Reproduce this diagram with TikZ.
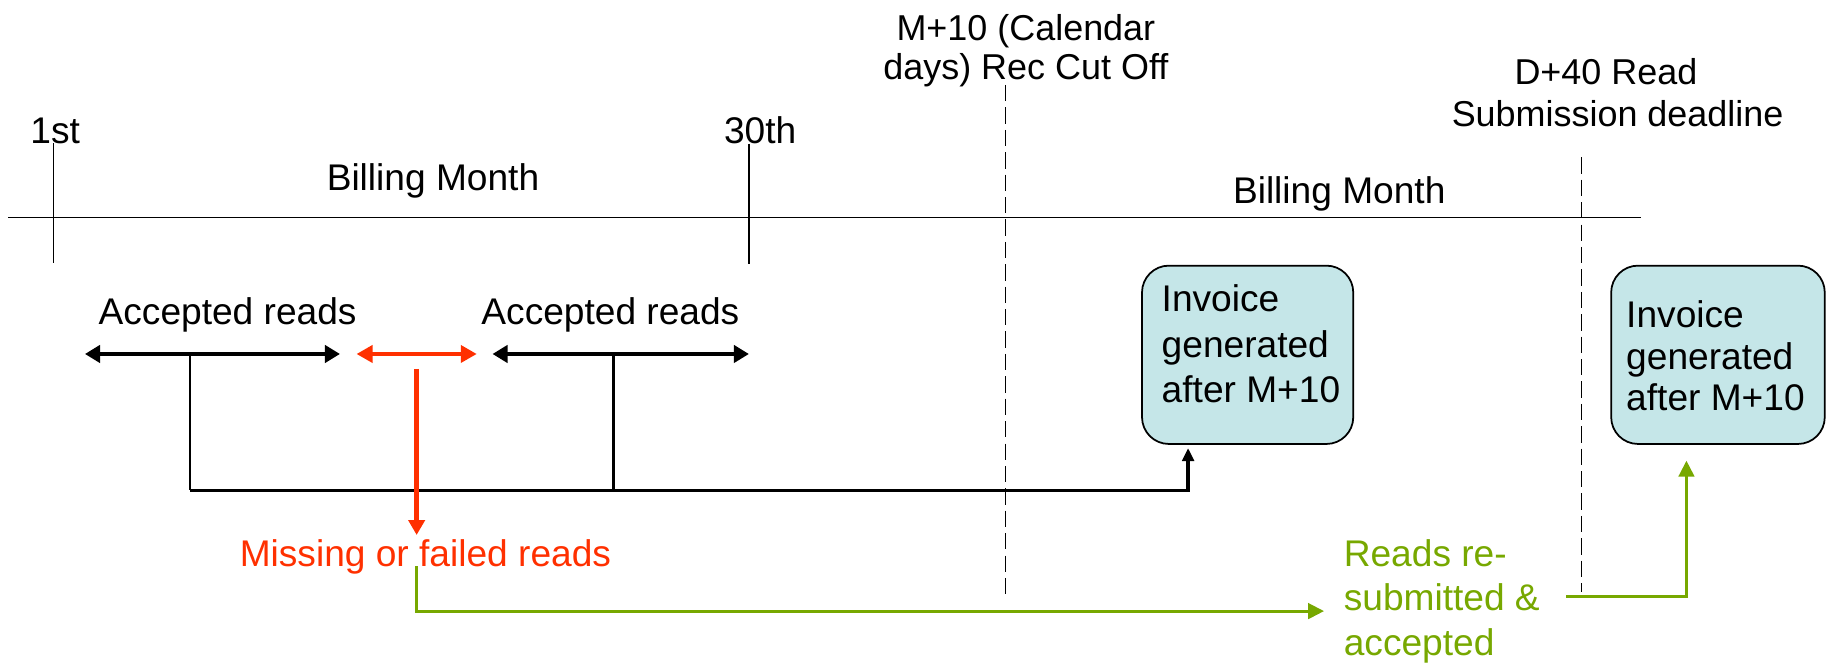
\documentclass[tikz,border=0pt]{standalone}
\usepackage{fontspec}
\setmainfont{Liberation Sans}
\usetikzlibrary{arrows.meta}

\definecolor{readred}{RGB}{255,48,0}
\definecolor{readgreen}{RGB}{119,168,0}
\definecolor{invfill}{RGB}{197,230,232}

\begin{document}
\begin{tikzpicture}[x=0.5pt,y=-0.5pt,
  txt/.style={font=\fontsize{15.9pt}{15.9pt}\selectfont, inner sep=0pt, anchor=base},
  txtl/.style={txt, anchor=base west},
  smalltxt/.style={txt, font=\fontsize{15.4pt}{15.4pt}\selectfont},
  axis/.style={line width=0.7pt},
  cutoff/.style={line width=0.6pt, dash pattern=on 7pt off 2.6pt},
  span/.style={line width=1.7pt, {Triangle[length=6.5pt,width=7.4pt]}-{Triangle[length=6.5pt,width=7.4pt]}},
  redspan/.style={line width=1.3pt, readred, {Triangle[length=6.8pt,width=7.4pt]}-{Triangle[length=6.8pt,width=7.4pt]}},
  invbox/.style={draw, line width=0.75pt, fill=invfill, rounded corners=11.5pt, inner sep=0pt},
  feed/.style={line width=1.4pt},
  greenarrow/.style={readgreen, line width=1.3pt, -{Triangle[length=6.8pt,width=6.6pt]}}
]
\useasboundingbox (0,0) rectangle (1568,568);

% main time axis with the month ticks
\coordinate (axisL) at (7,186.3);
\coordinate (axisR) at (1406,186.3);
\draw[axis] (axisL) -- (axisR);
\coordinate (t1top) at (45.7,122.8);
\coordinate (t1bot) at (45.7,225.6);
\coordinate (t30top) at (642,123);
\coordinate (t30bot) at (642,226);
\draw[axis] (t1top) -- (t1bot);
\draw[axis] (t30top) -- (t30bot);

\node[txtl] (first) at (25.7,122.8) {1st};
\node[txtl] (thirtieth) at (620,123) {30th};
\node[txt] (bm1) at (371,163) {Billing Month};
\node[txt] (bm2) at (1147.5,174) {Billing Month};

% cut-off markers
\node[smalltxt] (m10a) at (879,34.8) {M+10 (Calendar};
\node[smalltxt] (m10b) at (879,68.5) {days) Rec Cut Off};
\coordinate (cut1top) at (861.7,72.8);
\coordinate (cut1bot) at (861.7,510);
\draw[cutoff] (cut1top) -- (cut1bot);

\node[smalltxt] (d40a) at (1376,72) {D+40 Read};
\node[smalltxt] (d40b) at (1386,108) {Submission deadline};
\coordinate (cut2top) at (1355,134.8);
\coordinate (cut2bot) at (1355,507);
\draw[cutoff] (cut2top) -- (cut2bot);

% invoices
\node[invbox, minimum width=90.5pt, minimum height=76.4pt] (inv1) at (1069,304) {};
\node[txtl] (inv1a) at (995,267) {Invoice};
\node[txtl] (inv1b) at (995,306) {generated};
\node[txtl] (inv1c) at (995,345) {after M+10};

\node[invbox, minimum width=91.5pt, minimum height=76.4pt] (inv2) at (1472,304) {};
\node[txtl] (inv2a) at (1393,281) {Invoice};
\node[txtl] (inv2b) at (1393,316.5) {generated};
\node[txtl] (inv2c) at (1393,352) {after M+10};

% read periods
\node[txt] (acc1) at (195,278) {Accepted reads};
\node[txt] (acc2) at (523,278) {Accepted reads};
\coordinate (s1L) at (72.8,303.3);
\coordinate (s1R) at (291.3,303.3);
\coordinate (s2L) at (305.6,303.3);
\coordinate (s2R) at (408.4,303.3);
\coordinate (s3L) at (422,303.3);
\coordinate (s3R) at (641.7,303.3);
\draw[span] (s1L) -- (s1R);
\draw[redspan] (s2L) -- (s2R);
\draw[span] (s3L) -- (s3R);

% accepted reads feed the first invoice
\coordinate (f1) at (162.8,303.3);
\coordinate (f2) at (525.5,303.3);
\coordinate (fbus) at (162.8,420);
\coordinate (fbus2) at (525.5,420);
\coordinate (fend) at (1018,420);
\coordinate (ftip) at (1018,384);
\draw[line width=0.7pt] (f1) -- (fbus);
\draw[line width=1.3pt] (f2) -- (fbus2);
\draw[feed, -{Triangle[length=5.5pt,width=5pt]}] (fbus) -- (fend) -- (ftip);

% missing reads
\coordinate (missTop) at (357,316);
\coordinate (missTip) at (357,458.4);
\draw[readred, line width=2pt, -{Triangle[length=6.4pt,width=6.9pt]}] (missTop) -- (missTip);
\node[txt, text=readred] (missing) at (364.5,485.5) {Missing or failed reads};

% resubmission path
\coordinate (gStart) at (357,485);
\coordinate (gTip) at (1134.5,523.6);
\draw[greenarrow] (gStart) |- (gTip);
\node[txtl, text=readgreen] (resub1) at (1151,485) {Reads re-};
\node[txtl, text=readgreen] (resub2) at (1151,523.5) {submitted \&};
\node[txtl, text=readgreen] (resub3) at (1151,562) {accepted};
\coordinate (g2Start) at (1342,511);
\coordinate (g2Tip) at (1445,394.7);
\draw[greenarrow] (g2Start) -| (g2Tip);
\end{tikzpicture}
\end{document}
